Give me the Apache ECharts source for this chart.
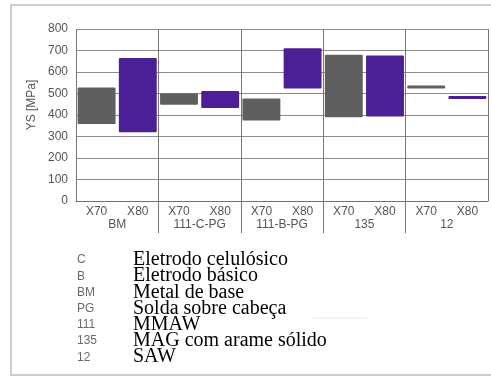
<!DOCTYPE html>
<html>
<head>
<meta charset="utf-8">
<script src="https://cdn.jsdelivr.net/npm/echarts@6/dist/echarts.min.js"></script>
<style>
  html, body { margin: 0; padding: 0; background: #fff; }
  #chart { width: 491px; height: 377px; }
</style>
</head>
<body>
<div id="chart"></div>
<script>
// Steel grade under each welding process
const categories = ['X70', 'X80', 'X70', 'X80', 'X70', 'X80', 'X70', 'X80', 'X70', 'X80'];
// Process groups along the bottom
const groups = ['BM', '111-C-PG', '111-B-PG', '135', '12'];
// Yield strength range per bar (MPa)
const ysLow  = [358, 320, 448, 432, 375, 523, 390, 393, 523, 474];
const ysHigh = [528, 665, 500, 512, 477, 710, 680, 677, 537, 488];
// Y axis range
const yMin = 0, yMax = 800, yStep = 100;
// Abbreviation key below the chart
const legendCodes = ['C', 'B', 'BM', 'PG', '111', '135', '12'];
const legendNames = ['Eletrodo celulósico', 'Eletrodo básico', 'Metal de base',
                     'Solda sobre cabeça', 'MMAW', 'MAG com arame sólido', 'SAW'];

const gradeColors = ['#5f5f5f', '#4b1f95'];
const sans = 'Liberation Sans, Arial, sans-serif';
const serif = 'Liberation Serif, Times New Roman, serif';

const chart = echarts.init(document.getElementById('chart'));

const keyGraphics = [];
legendCodes.forEach((code, i) => {
  const y = 260 + i * 16.2;
  keyGraphics.push({
    type: 'text', x: 77, y: y,
    style: { text: code, font: '12px ' + sans, fill: '#6a6a6a', verticalAlign: 'middle' }
  });
  keyGraphics.push({
    type: 'text', x: 133, y: y,
    style: { text: legendNames[i], font: '20px ' + serif, fill: '#000', verticalAlign: 'middle' }
  });
});

chart.setOption({
  animation: false,
  backgroundColor: '#fff',
  grid: [
    { left: 76, right: 3, top: 29, bottom: 176 },
    { left: 76, right: 3, top: 201, height: 32 }
  ],
  xAxis: [
    {
      type: 'category', gridIndex: 0, data: categories,
      axisLine: { show: true, lineStyle: { color: '#707070', width: 1 } },
      axisTick: { show: false },
      axisLabel: { margin: 5, fontSize: 12, fontFamily: sans, color: '#555' },
      splitLine: { show: false }
    },
    {
      type: 'category', gridIndex: 0, data: groups, position: 'bottom',
      axisLine: { show: false }, axisTick: { show: false }, axisLabel: { show: false },
      splitLine: { show: true, lineStyle: { color: '#777', width: 1 } }
    },
    {
      type: 'category', gridIndex: 1, data: groups, position: 'top',
      axisLine: { show: false }, axisTick: { show: false },
      axisLabel: { inside: true, margin: 18, fontSize: 12, fontFamily: sans, color: '#555' },
      splitLine: { show: true, showMinLine: false, showMaxLine: false,
                   lineStyle: { color: '#777', width: 1 } }
    }
  ],
  yAxis: [
    {
      type: 'value', gridIndex: 0, min: yMin, max: yMax, interval: yStep,
      axisLine: { show: false }, axisTick: { show: false },
      axisLabel: { margin: 8, fontSize: 12, fontFamily: sans, color: '#555' },
      splitLine: { show: true, lineStyle: { color: '#8c8c8c', width: 1 } }
    },
    { type: 'value', gridIndex: 1, show: false, min: 0, max: 1 }
  ],
  series: [
    {
      name: 'base', type: 'bar', stack: 'ys', xAxisIndex: 0, yAxisIndex: 0,
      barWidth: '92%', silent: true,
      itemStyle: { color: 'transparent' },
      data: ysLow
    },
    {
      name: 'range', type: 'bar', stack: 'ys', xAxisIndex: 0, yAxisIndex: 0,
      barWidth: '92%',
      itemStyle: {
        color: p => gradeColors[p.dataIndex % 2],
        borderRadius: 1
      },
      data: ysHigh.map((h, i) => h - ysLow[i])
    }
  ],
  graphic: [
    {
      type: 'rect', z: -1, silent: true,
      shape: { x: 11, y: 5, width: 500, height: 370 },
      style: { fill: 'none', stroke: '#cdcdcd', lineWidth: 2 }
    },
    {
      type: 'text', x: 32, y: 105, rotation: Math.PI / 2,
      style: { text: 'YS [MPa]', font: '12px ' + sans, fill: '#555',
               align: 'center', verticalAlign: 'middle' }
    },
    {
      type: 'line', silent: true,
      shape: { x1: 313, y1: 318, x2: 367, y2: 318 },
      style: { stroke: '#e6e6e6', lineWidth: 1 }
    }
  ].concat(keyGraphics)
});
</script>
</body>
</html>
